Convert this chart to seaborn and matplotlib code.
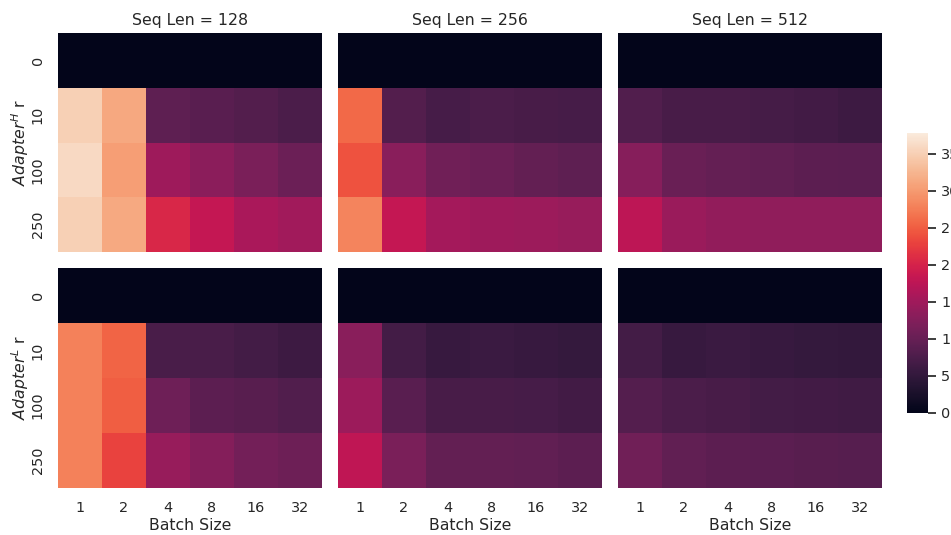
import numpy as np
import pandas as pd
import matplotlib
matplotlib.use("Agg")
import matplotlib.pyplot as plt
import seaborn as sns

batch_sizes = [1, 2, 4, 8, 16, 32]
ranks = [0, 10, 100, 250]
seq_lens = [128, 256, 512]
adapters = ["H", "L"]

# Adapter^H
h_128 = [[0, 0, 0, 0, 0, 0],
         [35.0, 31.3, 9.3, 8.8, 8.2, 7.4],
         [35.9, 30.3, 14.9, 13.2, 11.8, 10.4],
         [35.0, 31.4, 20.5, 18.2, 15.8, 15.2]]
h_256 = [[0, 0, 0, 0, 0, 0],
         [25.9, 8.2, 7.0, 7.4, 7.2, 7.0],
         [24.2, 13.1, 10.9, 10.4, 9.7, 9.2],
         [28.1, 18.2, 15.5, 14.9, 14.7, 14.2]]
h_512 = [[0, 0, 0, 0, 0, 0],
         [8.0, 7.1, 7.1, 6.9, 6.5, 6.1],
         [12.8, 10.3, 9.8, 9.5, 9.1, 9.0],
         [17.7, 14.6, 13.8, 13.6, 13.6, 13.6]]
# Adapter^L
l_128 = [[0, 0, 0, 0, 0, 0],
         [27.8, 25.4, 7.3, 7.3, 6.7, 6.2],
         [27.8, 25.0, 10.7, 9.1, 8.6, 8.1],
         [27.8, 22.9, 14.2, 12.6, 11.2, 10.5]]
l_256 = [[0, 0, 0, 0, 0, 0],
         [13.1, 6.7, 5.5, 5.8, 5.6, 5.2],
         [14.7, 8.8, 7.2, 7.2, 7.0, 6.5],
         [17.8, 11.8, 9.7, 9.7, 9.5, 9.1]]
l_512 = [[0, 0, 0, 0, 0, 0],
         [6.7, 5.5, 5.8, 5.6, 5.3, 5.1],
         [8.4, 7.4, 7.2, 6.7, 6.6, 6.4],
         [10.8, 9.5, 9.1, 8.9, 8.6, 8.5]]

grid = {("H", 128): h_128, ("H", 256): h_256, ("H", 512): h_512,
        ("L", 128): l_128, ("L", 256): l_256, ("L", 512): l_512}

vmin, vmax = 0, 37.8

sns.set_theme(style="white", context="notebook")
W, H = 951, 535
fig = plt.figure(figsize=(W / 100, H / 100), dpi=100)

xs = [58, 338, 618]
pw = 264
rows_y = [(33, 252), (268, 488)]
cbar_ax = fig.add_axes([907 / W, 1 - 413 / H, 21 / W, 280 / H])

LBL = 11.3
TCK = 10.4

for r, ad in enumerate(adapters):
    y0, y1 = rows_y[r]
    for c, sl in enumerate(seq_lens):
        ax = fig.add_axes([xs[c] / W, 1 - y1 / H, pw / W, (y1 - y0) / H])
        df = pd.DataFrame(grid[(ad, sl)], index=ranks, columns=batch_sizes)
        first = (r == 0 and c == 0)
        sns.heatmap(df, ax=ax, cmap="rocket", vmin=vmin, vmax=vmax,
                    cbar=first, cbar_ax=cbar_ax if first else None)
        if r == 0:
            ax.set_title(f"Seq Len = {sl}", fontsize=LBL, pad=6)
            ax.set_xticks([])
            ax.set_xlabel("")
        else:
            ax.set_xlabel("Batch Size", fontsize=LBL, labelpad=2)
            ax.tick_params(axis="x", labelsize=TCK)
        if c == 0:
            ax.set_ylabel(f"$Adapter^{{{ad}}}$ r", fontsize=LBL, labelpad=0)
            ax.tick_params(axis="y", labelsize=TCK)
        else:
            ax.set_yticks([])
            ax.set_ylabel("")

cbar_ax.set_yticks([0, 5, 10, 15, 20, 25, 30, 35])
cbar_ax.tick_params(labelsize=TCK)

fig.savefig("out.png", dpi=100)
